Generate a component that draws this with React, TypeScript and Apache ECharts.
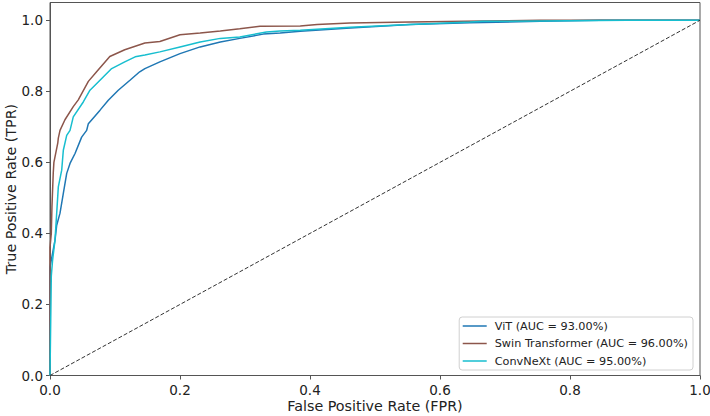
import React, { useEffect, useRef } from "react";
import * as echarts from "echarts";

const vitFpr = [0, 0, 0, 0.0077, 0.0103, 0.0154, 0.0205, 0.0257, 0.0308, 0.0385, 0.0487, 0.0564, 0.059, 0.077, 0.0897, 0.105, 0.123, 0.138, 0.146, 0.169, 0.2, 0.231, 0.262, 0.292, 0.328, 0.354, 0.385, 0.462, 0.554, 0.646, 0.754, 0.846, 1.0];
const vitTpr = [0, 0.035, 0.305, 0.381, 0.423, 0.457, 0.513, 0.569, 0.597, 0.625, 0.671, 0.69, 0.709, 0.747, 0.775, 0.803, 0.831, 0.855, 0.864, 0.883, 0.906, 0.925, 0.939, 0.949, 0.961, 0.964, 0.969, 0.978, 0.988, 0.993, 0.997, 1.0, 1.0];

const swinFpr = [0, 0, 0.002, 0.003, 0.005, 0.006, 0.012, 0.0128, 0.0154, 0.023, 0.0358, 0.0435, 0.059, 0.072, 0.092, 0.115, 0.146, 0.169, 0.2, 0.231, 0.262, 0.292, 0.323, 0.385, 0.411, 0.4615, 0.554, 0.666, 0.754, 1.0];
const swinTpr = [0, 0.36, 0.4, 0.475, 0.57, 0.6, 0.655, 0.668, 0.69, 0.72, 0.757, 0.776, 0.828, 0.856, 0.898, 0.917, 0.936, 0.94, 0.959, 0.964, 0.97, 0.976, 0.983, 0.984, 0.988, 0.992, 0.995, 0.998, 1.0, 1.0];

const convFpr = [0, 0.002, 0.004, 0.0077, 0.0103, 0.0128, 0.018, 0.0205, 0.0257, 0.0308, 0.0358, 0.0512, 0.0615, 0.0769, 0.0949, 0.115, 0.131, 0.146, 0.169, 0.2, 0.231, 0.262, 0.292, 0.333, 0.354, 0.385, 0.462, 0.554, 0.646, 0.666, 0.888, 1.0];
const convTpr = [0, 0.28, 0.325, 0.381, 0.457, 0.531, 0.578, 0.634, 0.676, 0.69, 0.728, 0.77, 0.803, 0.831, 0.864, 0.883, 0.897, 0.902, 0.911, 0.925, 0.939, 0.949, 0.953, 0.967, 0.97, 0.972, 0.98, 0.988, 0.995, 0.997, 1.0, 1.0];

const chanceFpr = [0, 1];
const chanceTpr = [0, 1];

const seriesNames = ["ViT (AUC = 93.00%)", "Swin Transformer (AUC = 96.00%)", "ConvNeXt (AUC = 95.00%)"];
const seriesColors = ["#1f77b4", "#8c564b", "#17becf"];
const yTicks = [0, 0.2, 0.4, 0.6, 0.8, 1.0];

const zip = (a: number[], b: number[]) => a.map((v, i) => [v, b[i]]);

export default function App() {
  const ref = useRef<HTMLDivElement>(null);
  useEffect(() => {
    if (!ref.current) return;
    const chart = echarts.init(ref.current, null, { renderer: "svg" });
    const font = "DejaVu Sans";
    const curves = [zip(vitFpr, vitTpr), zip(swinFpr, swinTpr), zip(convFpr, convTpr)];
    chart.setOption({
      animation: false,
      backgroundColor: "#fff",
      grid: {
        left: 50,
        right: 10,
        top: 2.5,
        bottom: 40.5,
        show: true,
        borderColor: "#555",
        borderWidth: 1,
        containLabel: false,
        outerBoundsMode: "none",
      },
      legend: {
        data: seriesNames,
        orient: "vertical",
        right: 17,
        bottom: 46,
        icon: "rect",
        itemWidth: 24,
        itemHeight: 1.5,
        itemGap: 4.5,
        padding: [2.5, 5, 2.5, 3.5],
        borderColor: "#d0d0d0",
        borderWidth: 1,
        borderRadius: 3,
        backgroundColor: "#fff",
        textStyle: { fontFamily: font, fontSize: 11.25, color: "#222", lineHeight: 13, padding: [0, 0, 0, 3] },
      },
      xAxis: {
        type: "value",
        min: 0,
        max: 1,
        interval: 0.2,
        name: "False Positive Rate (FPR)",
        nameLocation: "middle",
        nameGap: 23.5,
        nameMoveOverlap: false,
        nameTextStyle: { fontFamily: font, fontSize: 14.3, color: "#222" },
        axisLine: { show: true, lineStyle: { color: "#555" } },
        axisTick: { show: true, length: 4, lineStyle: { color: "#555" } },
        axisLabel: {
          fontFamily: font,
          fontSize: 13.5,
          color: "#222",
          margin: 7,
          formatter: (v: number) => v.toFixed(1),
        },
        splitLine: { show: false },
      },
      yAxis: {
        type: "value",
        min: 0,
        max: 1.05,
        name: "True Positive Rate (TPR)",
        nameLocation: "middle",
        nameGap: 32,
        nameMoveOverlap: false,
        nameTextStyle: { fontFamily: font, fontSize: 14.3, color: "#222" },
        axisLine: { show: true, lineStyle: { color: "#555" } },
        axisTick: { show: true, length: 4, customValues: yTicks, lineStyle: { color: "#555" } },
        axisLabel: {
          fontFamily: font,
          fontSize: 13.5,
          color: "#222",
          margin: 7,
          customValues: yTicks,
          formatter: (v: number) => v.toFixed(1),
        },
        splitLine: { show: false },
      },
      series: [
        ...curves.map((d, i) => ({
          name: seriesNames[i],
          type: "line",
          data: d,
          symbol: "none",
          color: seriesColors[i],
          lineStyle: { width: 1.5, color: seriesColors[i] },
          z: 2 + i,
        })),
        {
          name: "chance",
          type: "line",
          data: zip(chanceFpr, chanceTpr),
          symbol: "none",
          lineStyle: { width: 1, color: "#333", type: [4, 2] },
          z: 6,
        },
      ],
    });
    return () => chart.dispose();
  }, []);
  return <div ref={ref} style={{ width: 710, height: 416, position: "absolute", left: 0, top: 0 }} />;
}
